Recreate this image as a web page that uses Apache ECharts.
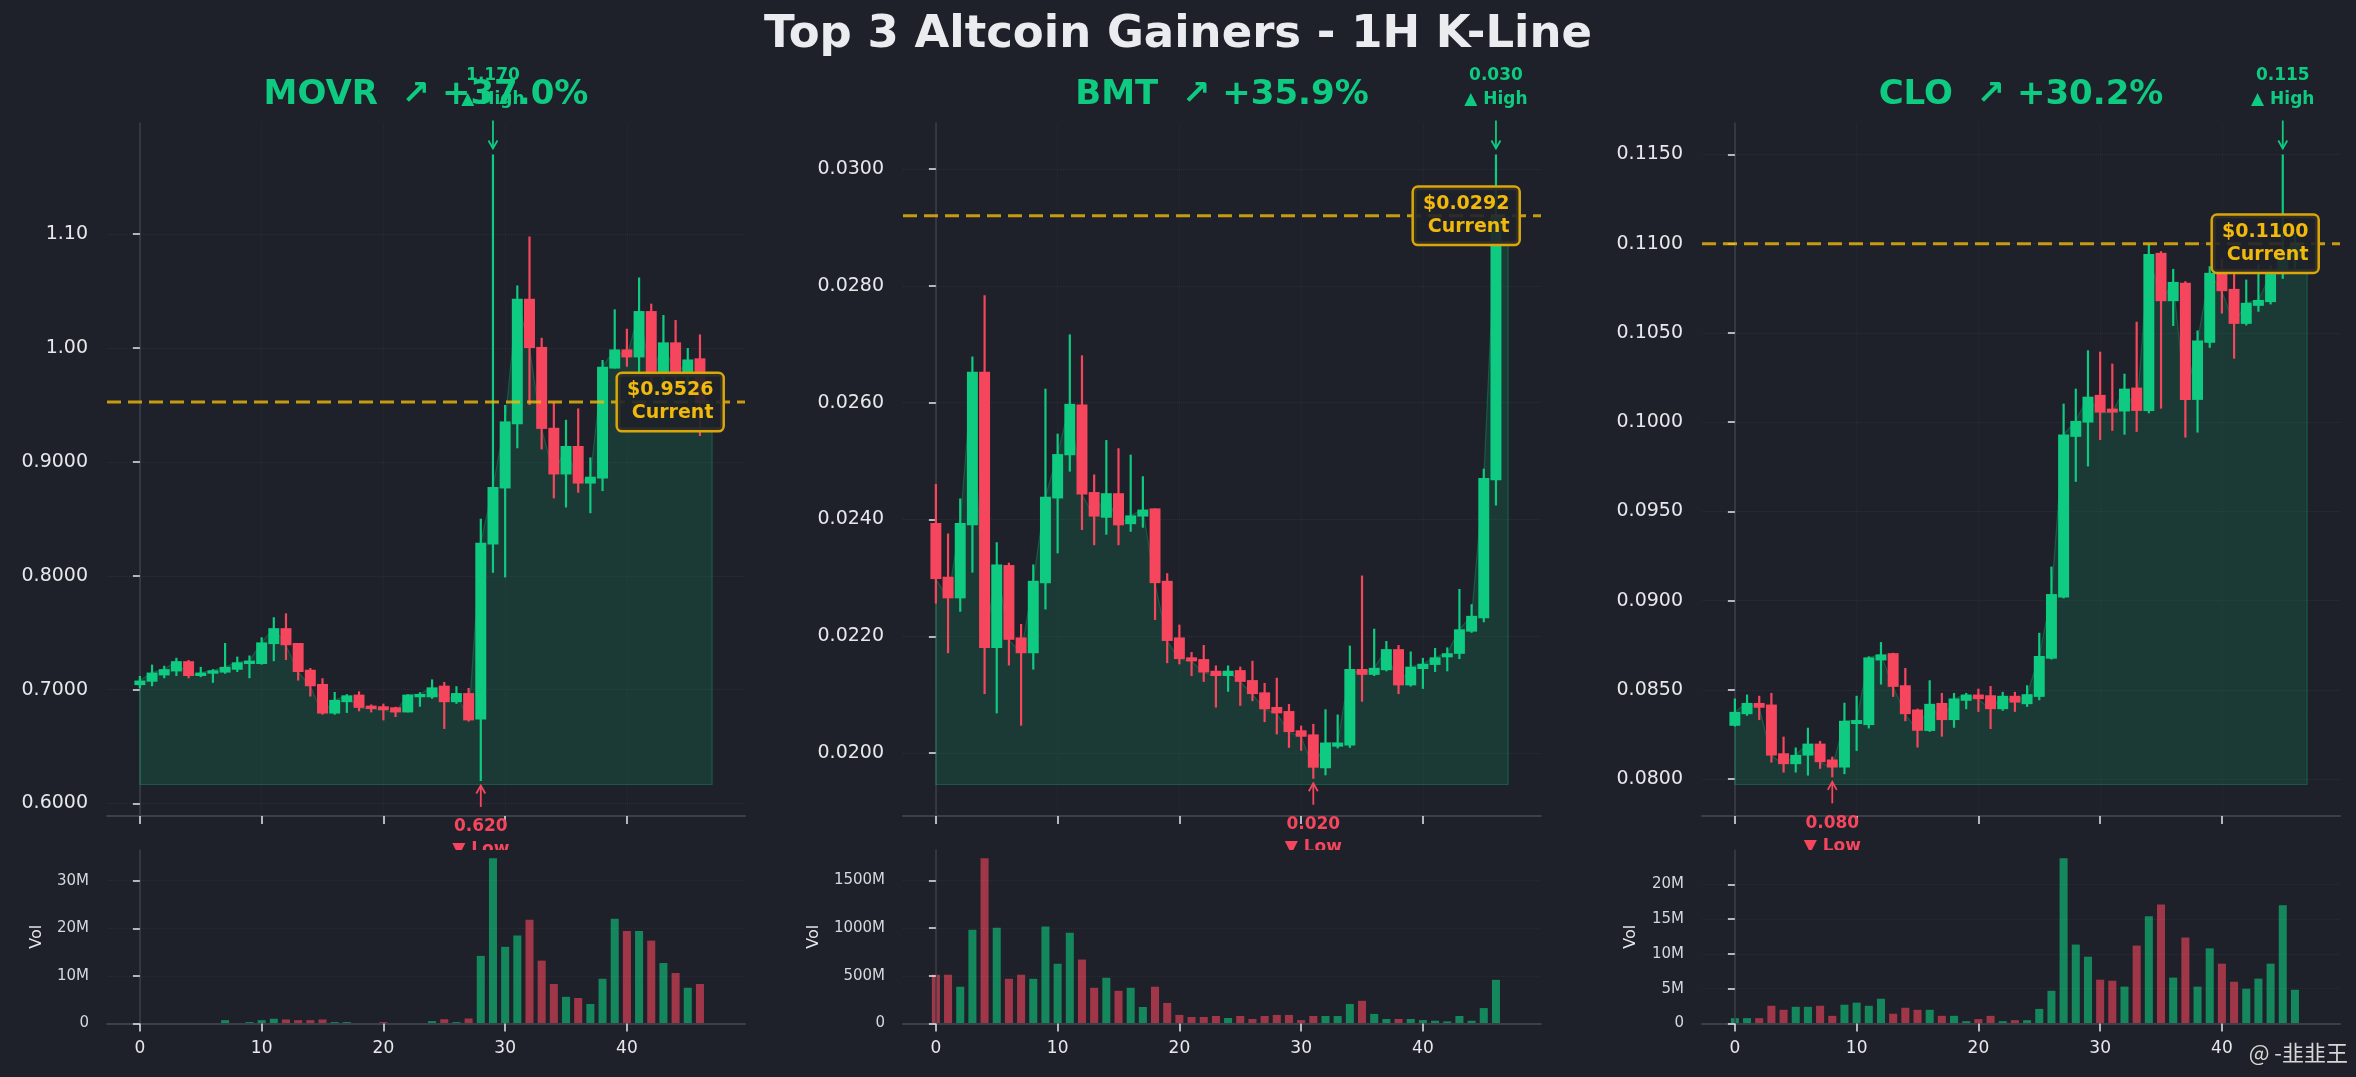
<!DOCTYPE html>
<html>
<head>
<meta charset="utf-8">
<script src="https://cdn.jsdelivr.net/npm/echarts@6/dist/echarts.min.js"></script>
<style>
html,body{margin:0;padding:0;background:#1e2129;}
#chart{width:2356px;height:1077px;}
</style>
</head>
<body>
<div id="chart"></div>
<script>
// ---------------- DATA ----------------
const mainTitle = 'Top 3 Altcoin Gainers - 1H K-Line';
const coinTitles = ['MOVR  ↗ +37.0%', 'BMT  ↗ +35.9%', 'CLO  ↗ +30.2%'];
const currentPrice = [0.9526, 0.0292, 0.1100];
const currentLabels = ['$0.9526', '$0.0292', '$0.1100'];
const xTicks = [0, 10, 20, 30, 40];
const priceTicks = [
  [0.6, 0.7, 0.8, 0.9, 1.0, 1.1],
  [0.020, 0.022, 0.024, 0.026, 0.028, 0.030],
  [0.080, 0.085, 0.090, 0.095, 0.100, 0.105, 0.110, 0.115]
];
const volTicksM = [[0, 10, 20, 30], [0, 500, 1000, 1500], [0, 5, 10, 15, 20]];

const movrOpen  = [0.704,0.707,0.7125,0.716,0.725,0.712,0.714,0.715,0.7175,0.7225,0.7225,0.740,0.754,0.741,0.7175,0.705,0.679,0.689,0.6956,0.686,0.6854,0.6845,0.680,0.6933,0.6933,0.7035,0.689,0.697,0.6737,0.8275,0.8767,0.933,1.0433,1.001,0.930,0.889,0.914,0.881,0.8855,0.982,0.9988,0.9918,1.0325,0.975,1.005,0.975,0.991];
const movrClose = [0.708,0.715,0.718,0.725,0.712,0.715,0.717,0.720,0.724,0.7255,0.7415,0.754,0.739,0.7155,0.703,0.679,0.691,0.695,0.684,0.683,0.682,0.680,0.6956,0.6962,0.702,0.689,0.697,0.673,0.829,0.878,0.9356,1.0433,1.000,0.929,0.889,0.914,0.881,0.887,0.9836,0.9988,0.9918,1.0325,0.975,1.005,0.975,0.990,0.9526];
const movrHigh  = [0.712,0.722,0.721,0.728,0.726,0.720,0.718,0.741,0.729,0.730,0.746,0.7636,0.767,0.741,0.719,0.710,0.698,0.696,0.6985,0.687,0.6877,0.685,0.696,0.6977,0.709,0.7067,0.703,0.7015,0.850,1.170,0.950,1.055,1.098,1.009,0.952,0.937,0.947,0.904,0.9895,1.034,1.017,1.062,1.039,1.029,1.0246,1.000,1.012];
const movrLow   = [0.701,0.703,0.710,0.712,0.710,0.711,0.706,0.714,0.7155,0.710,0.722,0.725,0.726,0.708,0.694,0.678,0.678,0.6796,0.681,0.680,0.673,0.676,0.680,0.685,0.692,0.6655,0.6875,0.672,0.6198,0.8026,0.7986,0.912,0.950,0.911,0.868,0.860,0.873,0.855,0.8744,0.982,0.9836,0.978,0.969,0.963,0.972,0.966,0.9227];
const movrVolM  = [0.05,0.05,0.05,0.05,0.05,0.05,0.05,0.7,0.1,0.3,0.7,1.0,0.85,0.7,0.7,0.85,0.3,0.3,0.1,0.1,0.3,0.05,0.05,0.05,0.5,0.9,0.3,1.05,14.2,34.7,16.1,18.5,21.8,13.2,8.3,5.6,5.35,4.1,9.4,22.0,19.4,19.4,17.4,12.7,10.6,7.5,8.3];

const bmtOpen  = [0.02394,0.02302,0.02265,0.0239,0.02653,0.0218,0.02322,0.02198,0.02171,0.02291,0.02436,0.0251,0.02597,0.02447,0.02403,0.02445,0.02392,0.02405,0.02419,0.02295,0.02198,0.02164,0.02161,0.02141,0.02132,0.02142,0.02125,0.02104,0.02079,0.02072,0.02039,0.02032,0.01974,0.02011,0.02013,0.02144,0.02134,0.02142,0.02178,0.02116,0.02144,0.02151,0.02164,0.0217,0.02208,0.02231,0.02467];
const bmtClose = [0.02298,0.02265,0.02394,0.02653,0.0218,0.02323,0.02194,0.02171,0.02295,0.02439,0.02512,0.02598,0.02443,0.02405,0.02445,0.0239,0.02407,0.02417,0.02291,0.02192,0.02161,0.02157,0.02138,0.02132,0.02141,0.02122,0.02101,0.02075,0.02068,0.02036,0.02028,0.01975,0.02018,0.02018,0.02144,0.02134,0.02146,0.02178,0.02116,0.02148,0.02153,0.02164,0.02171,0.02212,0.02235,0.02471,0.0292];
const bmtHigh  = [0.02461,0.02376,0.02436,0.02679,0.02784,0.02361,0.02326,0.02221,0.02323,0.02624,0.02547,0.02717,0.02681,0.02477,0.02536,0.02522,0.02511,0.02474,0.02419,0.02308,0.0222,0.02173,0.02185,0.0215,0.0215,0.02148,0.02158,0.0212,0.02129,0.02084,0.02047,0.0205,0.02075,0.02066,0.02184,0.02304,0.02213,0.02192,0.02185,0.02174,0.02163,0.0218,0.02181,0.02281,0.02255,0.02487,0.03025];
const bmtLow   = [0.02256,0.02171,0.02242,0.02309,0.02101,0.02068,0.0215,0.02047,0.02143,0.02246,0.02342,0.02482,0.02382,0.02356,0.02374,0.02356,0.02379,0.02386,0.02228,0.02154,0.02152,0.02132,0.02122,0.02078,0.02105,0.02081,0.02089,0.02053,0.02032,0.02009,0.02004,0.01956,0.01962,0.02008,0.02009,0.02088,0.02132,0.0214,0.02101,0.02114,0.0211,0.02139,0.0214,0.02161,0.02206,0.02224,0.02424];
const bmtVolM  = [512,512,386,984,1734,1006,469,512,469,1017,627,952,671,375,480,343,375,173,386,216,90,68,68,79,58,79,47,79,90,90,36,79,79,79,205,238,101,47,47,47,36,29,22,79,29,162,458];

const cloOpen  = [0.08299,0.08364,0.08427,0.08418,0.08145,0.08084,0.08132,0.08199,0.0811,0.08065,0.08309,0.08303,0.08665,0.08706,0.08526,0.0839,0.0827,0.08427,0.08331,0.08439,0.08474,0.0847,0.08392,0.08467,0.0842,0.08461,0.08675,0.09018,0.09918,0.09998,0.10153,0.10076,0.1006,0.10194,0.10063,0.10949,0.10678,0.10781,0.10125,0.10445,0.1085,0.10747,0.10551,0.10652,0.10673,0.1083,0.1092];
const cloClose = [0.08377,0.08427,0.084,0.08132,0.08084,0.08136,0.08199,0.08095,0.08065,0.08327,0.08331,0.08682,0.08699,0.08517,0.08364,0.08271,0.08422,0.08331,0.08452,0.08474,0.08448,0.08392,0.08467,0.08429,0.08476,0.0869,0.09037,0.09931,0.10007,0.10143,0.10054,0.10054,0.10188,0.10063,0.10943,0.10678,0.10786,0.10125,0.10458,0.10837,0.10734,0.10551,0.10669,0.10685,0.1083,0.1092,0.1100];
const cloHigh  = [0.08452,0.08474,0.08467,0.08483,0.08238,0.08177,0.08288,0.08214,0.08126,0.08428,0.08467,0.08688,0.08768,0.08708,0.08623,0.08395,0.08554,0.08483,0.08483,0.08483,0.08507,0.08522,0.08489,0.08489,0.08526,0.0882,0.09191,0.10104,0.10188,0.10403,0.10395,0.10328,0.10272,0.10563,0.10995,0.10958,0.10859,0.1079,0.10514,0.10874,0.1092,0.10833,0.10799,0.10883,0.1088,0.1150,0.1106];
const cloLow   = [0.08295,0.08355,0.08331,0.08093,0.08037,0.08037,0.0802,0.08058,0.0801,0.08028,0.08158,0.08284,0.0853,0.08461,0.08325,0.08177,0.08265,0.08238,0.08288,0.08392,0.08377,0.08281,0.08383,0.08377,0.08405,0.08442,0.0867,0.09013,0.09666,0.09752,0.099,0.09952,0.0993,0.09946,0.1005,0.10076,0.10539,0.09914,0.09942,0.10417,0.10609,0.10356,0.10542,0.10619,0.1066,0.10803,0.1086];
const cloVolM  = [0.77,0.77,0.77,2.55,1.97,2.4,2.4,2.55,1.1,2.7,3.0,2.55,3.56,1.4,2.26,1.97,1.97,1.1,1.1,0.34,0.63,1.1,0.34,0.48,0.48,2.1,4.7,23.75,11.35,9.6,6.3,6.15,5.3,11.2,15.4,17.1,6.6,12.35,5.3,10.8,8.6,6.0,5.0,6.45,8.6,17.0,4.85];

const panels = [
  {open: movrOpen, close: movrClose, high: movrHigh, low: movrLow, vol: movrVolM},
  {open: bmtOpen,  close: bmtClose,  high: bmtHigh,  low: bmtLow,  vol: bmtVolM},
  {open: cloOpen,  close: cloClose,  high: cloHigh,  low: cloLow,  vol: cloVolM}
];

// ---------------- STYLE / LAYOUT ----------------
const BG = '#1e2129';
const GREEN = '#0ecb81', RED = '#f6465d', GOLD = '#f0b90b';
const FONT = 'DejaVu Sans';
const GRID_LEFT = [107, 903, 1702];
const GRID_W = 638;
const MAIN_TOP = 123, MAIN_H = 693;
const VOL_TOP = 850, VOL_H = 173.5;
const X_MIN = -2.7, X_MAX = 49.7;
const AREA_END_X = 47;
const BOX_X = 47.85;
const VOL_NAME_GAP = [62, 81, 63];
const AXIS_COLOR = '#3a3f48';
const LABEL_COLOR = '#e6e8eb';

function priceFmt(v) { return v >= 1 ? v.toFixed(2) : v.toFixed(4); }

const option = {
  backgroundColor: BG,
  animation: false,
  textStyle: {fontFamily: FONT},
  title: [],
  grid: [],
  xAxis: [],
  yAxis: [],
  series: [],
  graphic: []
};

option.title.push({
  text: mainTitle, left: 'center', top: 8,
  textStyle: {fontSize: 45, fontWeight: 'bold', color: '#eaecef', fontFamily: FONT}
});

panels.forEach((pd, p) => {
  const n = pd.close.length;
  const hi = Math.max(...pd.high);
  const lo = Math.min(...pd.low);
  const hiIdx = pd.high.indexOf(hi);
  const loIdx = pd.low.indexOf(lo);
  const base = lo * 0.995;
  const ext = hi - base;
  const yMin = base - 0.05 * ext;
  const yMax = hi + 0.05 * ext;
  const volMax = Math.max(...pd.vol) * 1.05;
  const cx = GRID_LEFT[p] + GRID_W / 2;

  option.title.push({
    text: coinTitles[p], left: cx - 5, top: 73, textAlign: 'center',
    textStyle: {fontSize: 34, fontWeight: 'bold', color: GREEN, fontFamily: FONT}
  });

  option.grid[p] = {left: GRID_LEFT[p], top: MAIN_TOP, width: GRID_W, height: MAIN_H};

  option.xAxis[p] = {
    type: 'value', gridIndex: p, min: X_MIN, max: X_MAX,
    axisLine: {show: true, onZero: false, lineStyle: {color: AXIS_COLOR, width: 2}},
    axisTick: {show: true, length: 8, customValues: xTicks, lineStyle: {color: LABEL_COLOR, width: 1.5}},
    axisLabel: {show: false},
    splitLine: {show: true, lineStyle: {color: 'rgba(255,255,255,0.04)', type: 'dotted'}}
  };
  option.yAxis[p] = {
    type: 'value', gridIndex: p, min: yMin, max: yMax,
    axisLine: {show: true, lineStyle: {color: AXIS_COLOR, width: 1.5}},
    axisTick: {show: true, length: 7, customValues: priceTicks[p], lineStyle: {color: LABEL_COLOR, width: 1.5}},
    axisLabel: {customValues: priceTicks[p], formatter: priceFmt, fontSize: 19, color: LABEL_COLOR, margin: 19, fontFamily: FONT},
    splitLine: {show: true, lineStyle: {color: 'rgba(255,255,255,0.06)', type: 'dotted', width: 1}}
  };

  // volume grid / axes (drawn on an upper layer so they cover overflowing annotation text)
  option.grid[3 + p] = {left: GRID_LEFT[p], top: VOL_TOP, width: GRID_W, height: VOL_H};
  option.xAxis[3 + p] = {
    type: 'value', gridIndex: 3 + p, min: X_MIN, max: X_MAX, zlevel: 1, z: 5,
    axisLine: {show: true, onZero: false, lineStyle: {color: AXIS_COLOR, width: 2}},
    axisTick: {show: true, length: 8, customValues: xTicks, lineStyle: {color: LABEL_COLOR, width: 1.5}},
    axisLabel: {customValues: xTicks, fontSize: 17, color: LABEL_COLOR, margin: 17, fontFamily: FONT},
    splitLine: {show: false}
  };
  option.yAxis[3 + p] = {
    type: 'value', gridIndex: 3 + p, min: 0, max: volMax, zlevel: 1, z: 5,
    name: 'Vol', nameLocation: 'middle', nameRotate: 90, nameGap: VOL_NAME_GAP[p],
    nameTextStyle: {fontSize: 16, color: LABEL_COLOR, fontFamily: FONT},
    axisLine: {show: true, lineStyle: {color: AXIS_COLOR, width: 1.5}},
    axisTick: {show: true, length: 7, customValues: volTicksM[p], lineStyle: {color: LABEL_COLOR, width: 1.5}},
    axisLabel: {customValues: volTicksM[p], formatter: v => v === 0 ? '0' : v + 'M', fontSize: 15, color: '#d4d7db', margin: 18, fontFamily: FONT},
    splitLine: {show: true, lineStyle: {color: 'rgba(255,255,255,0.05)', type: 'dotted'}}
  };

  // area under closes
  option.series.push({
    type: 'custom', xAxisIndex: p, yAxisIndex: p, z: 1, clip: true,
    data: [[0, base]],
    renderItem: (params, api) => {
      const pts = [api.coord([0, base])];
      pd.close.forEach((c, i) => pts.push(api.coord([i, c])));
      pts.push(api.coord([AREA_END_X, pd.close[n - 1]]));
      pts.push(api.coord([AREA_END_X, base]));
      return {type: 'polygon', shape: {points: pts},
        style: {fill: 'rgba(14,203,129,0.15)', stroke: 'rgba(14,203,129,0.28)', lineWidth: 1.2}};
    }
  });

  // candles
  option.series.push({
    type: 'custom', xAxisIndex: p, yAxisIndex: p, z: 2,
    data: pd.close.map((c, i) => [i, pd.open[i], c, pd.low[i], pd.high[i]]),
    renderItem: (params, api) => {
      const i = api.value(0), o = api.value(1), c = api.value(2), l = api.value(3), h = api.value(4);
      const po = api.coord([i, o]), pc = api.coord([i, c]), pl = api.coord([i, l]), ph = api.coord([i, h]);
      const w = api.size([1, 0])[0] * 0.9;
      const col = c >= o ? GREEN : RED;
      const top = Math.min(po[1], pc[1]);
      let hh = Math.abs(po[1] - pc[1]);
      if (hh < 2) hh = 2;
      return {type: 'group', children: [
        {type: 'line', shape: {x1: ph[0], y1: ph[1], x2: pl[0], y2: pl[1]}, style: {stroke: col, lineWidth: 2.2}},
        {type: 'rect', shape: {x: po[0] - w / 2, y: top, width: w, height: hh}, style: {fill: col}}
      ]};
    }
  });

  // current price line + label
  option.series.push({
    type: 'custom', xAxisIndex: p, yAxisIndex: p, z: 4, clip: false,
    data: [[n - 1, currentPrice[p]]],
    renderItem: (params, api) => {
      const cs = params.coordSys;
      const pt = api.coord([api.value(0), api.value(1)]);
      const bx = api.coord([BOX_X, api.value(1)]);
      return {type: 'group', children: [
        {type: 'line', shape: {x1: cs.x, y1: pt[1], x2: cs.x + cs.width, y2: pt[1]},
          style: {stroke: 'rgba(240,185,11,0.8)', lineWidth: 3, lineDash: [14, 7]}},
        {type: 'text', z2: 10, style: {
          text: currentLabels[p] + '\nCurrent', x: bx[0], y: pt[1],
          align: 'right', verticalAlign: 'middle',
          font: 'bold 19px "DejaVu Sans"', fill: GOLD, lineHeight: 23,
          backgroundColor: 'rgba(30,33,41,0.9)', borderColor: '#d9a60c', borderWidth: 2.5, borderRadius: 4,
          padding: [3, 9, 7, 9]
        }}
      ]};
    }
  });

  // high / low annotations
  option.series.push({
    type: 'custom', xAxisIndex: p, yAxisIndex: p, z: 1, clip: false,
    data: [[hiIdx, hi, 0], [loIdx, lo, 1]],
    renderItem: (params, api) => {
      const v = api.value(1), kind = api.value(2);
      const pt = api.coord([api.value(0), v]);
      const x = pt[0], y = pt[1];
      const isHigh = kind === 0;
      const col = isHigh ? GREEN : RED;
      const font = 'bold 17px "DejaVu Sans"';
      const tail = isHigh ? y - 34 : y + 26;
      const tip = isHigh ? y - 6 : y + 4.5;
      const hd = isHigh ? -8 : 8;
      const t1y = isHigh ? y - 79 : y + 46;
      const t2y = isHigh ? y - 55 : y + 69;
      return {type: 'group', children: [
        {type: 'line', shape: {x1: x, y1: tail, x2: x, y2: tip}, style: {stroke: col, lineWidth: 1.8}},
        {type: 'polyline', shape: {points: [[x - 4.5, tip + hd], [x, tip], [x + 4.5, tip + hd]]}, style: {stroke: col, lineWidth: 1.8, fill: null}},
        {type: 'text', style: {text: v.toFixed(3), x: x, y: t1y, align: 'center', verticalAlign: 'middle', font: font, fill: col}},
        {type: 'text', style: {text: isHigh ? '▲ High' : '▼ Low', x: x, y: t2y, align: 'center', verticalAlign: 'middle', font: font, fill: col}}
      ]};
    }
  });

  // volume bars
  option.series.push({
    type: 'custom', xAxisIndex: 3 + p, yAxisIndex: 3 + p, zlevel: 1, z: 4,
    data: pd.vol.map((v, i) => [i, v, pd.close[i] >= pd.open[i] ? 1 : 0]),
    renderItem: (params, api) => {
      const i = api.value(0), v = api.value(1), up = api.value(2);
      const p0 = api.coord([i, 0]), p1 = api.coord([i, v]);
      const w = api.size([1, 0])[0] * 0.66;
      return {type: 'rect', shape: {x: p0[0] - w / 2, y: p1[1], width: w, height: p0[1] - p1[1]},
        style: {fill: up ? 'rgba(14,203,129,0.6)' : 'rgba(246,70,93,0.6)'}};
    }
  });

  // volume panel background on the upper layer
  option.graphic.push({
    type: 'rect', zlevel: 1, z: 0, silent: true,
    shape: {x: GRID_LEFT[p], y: VOL_TOP, width: GRID_W, height: VOL_H},
    style: {fill: BG}
  });
});

option.graphic.push({
  type: 'text', zlevel: 1, z: 10, silent: true,
  style: {text: '@ -韭韭王', x: 2348, y: 1053, align: 'right', verticalAlign: 'middle',
    font: '22px "Noto Sans CJK SC"', fill: '#d6d6d6'}
});

const chart = echarts.init(document.getElementById('chart'));
chart.setOption(option);
</script>
</body>
</html>
